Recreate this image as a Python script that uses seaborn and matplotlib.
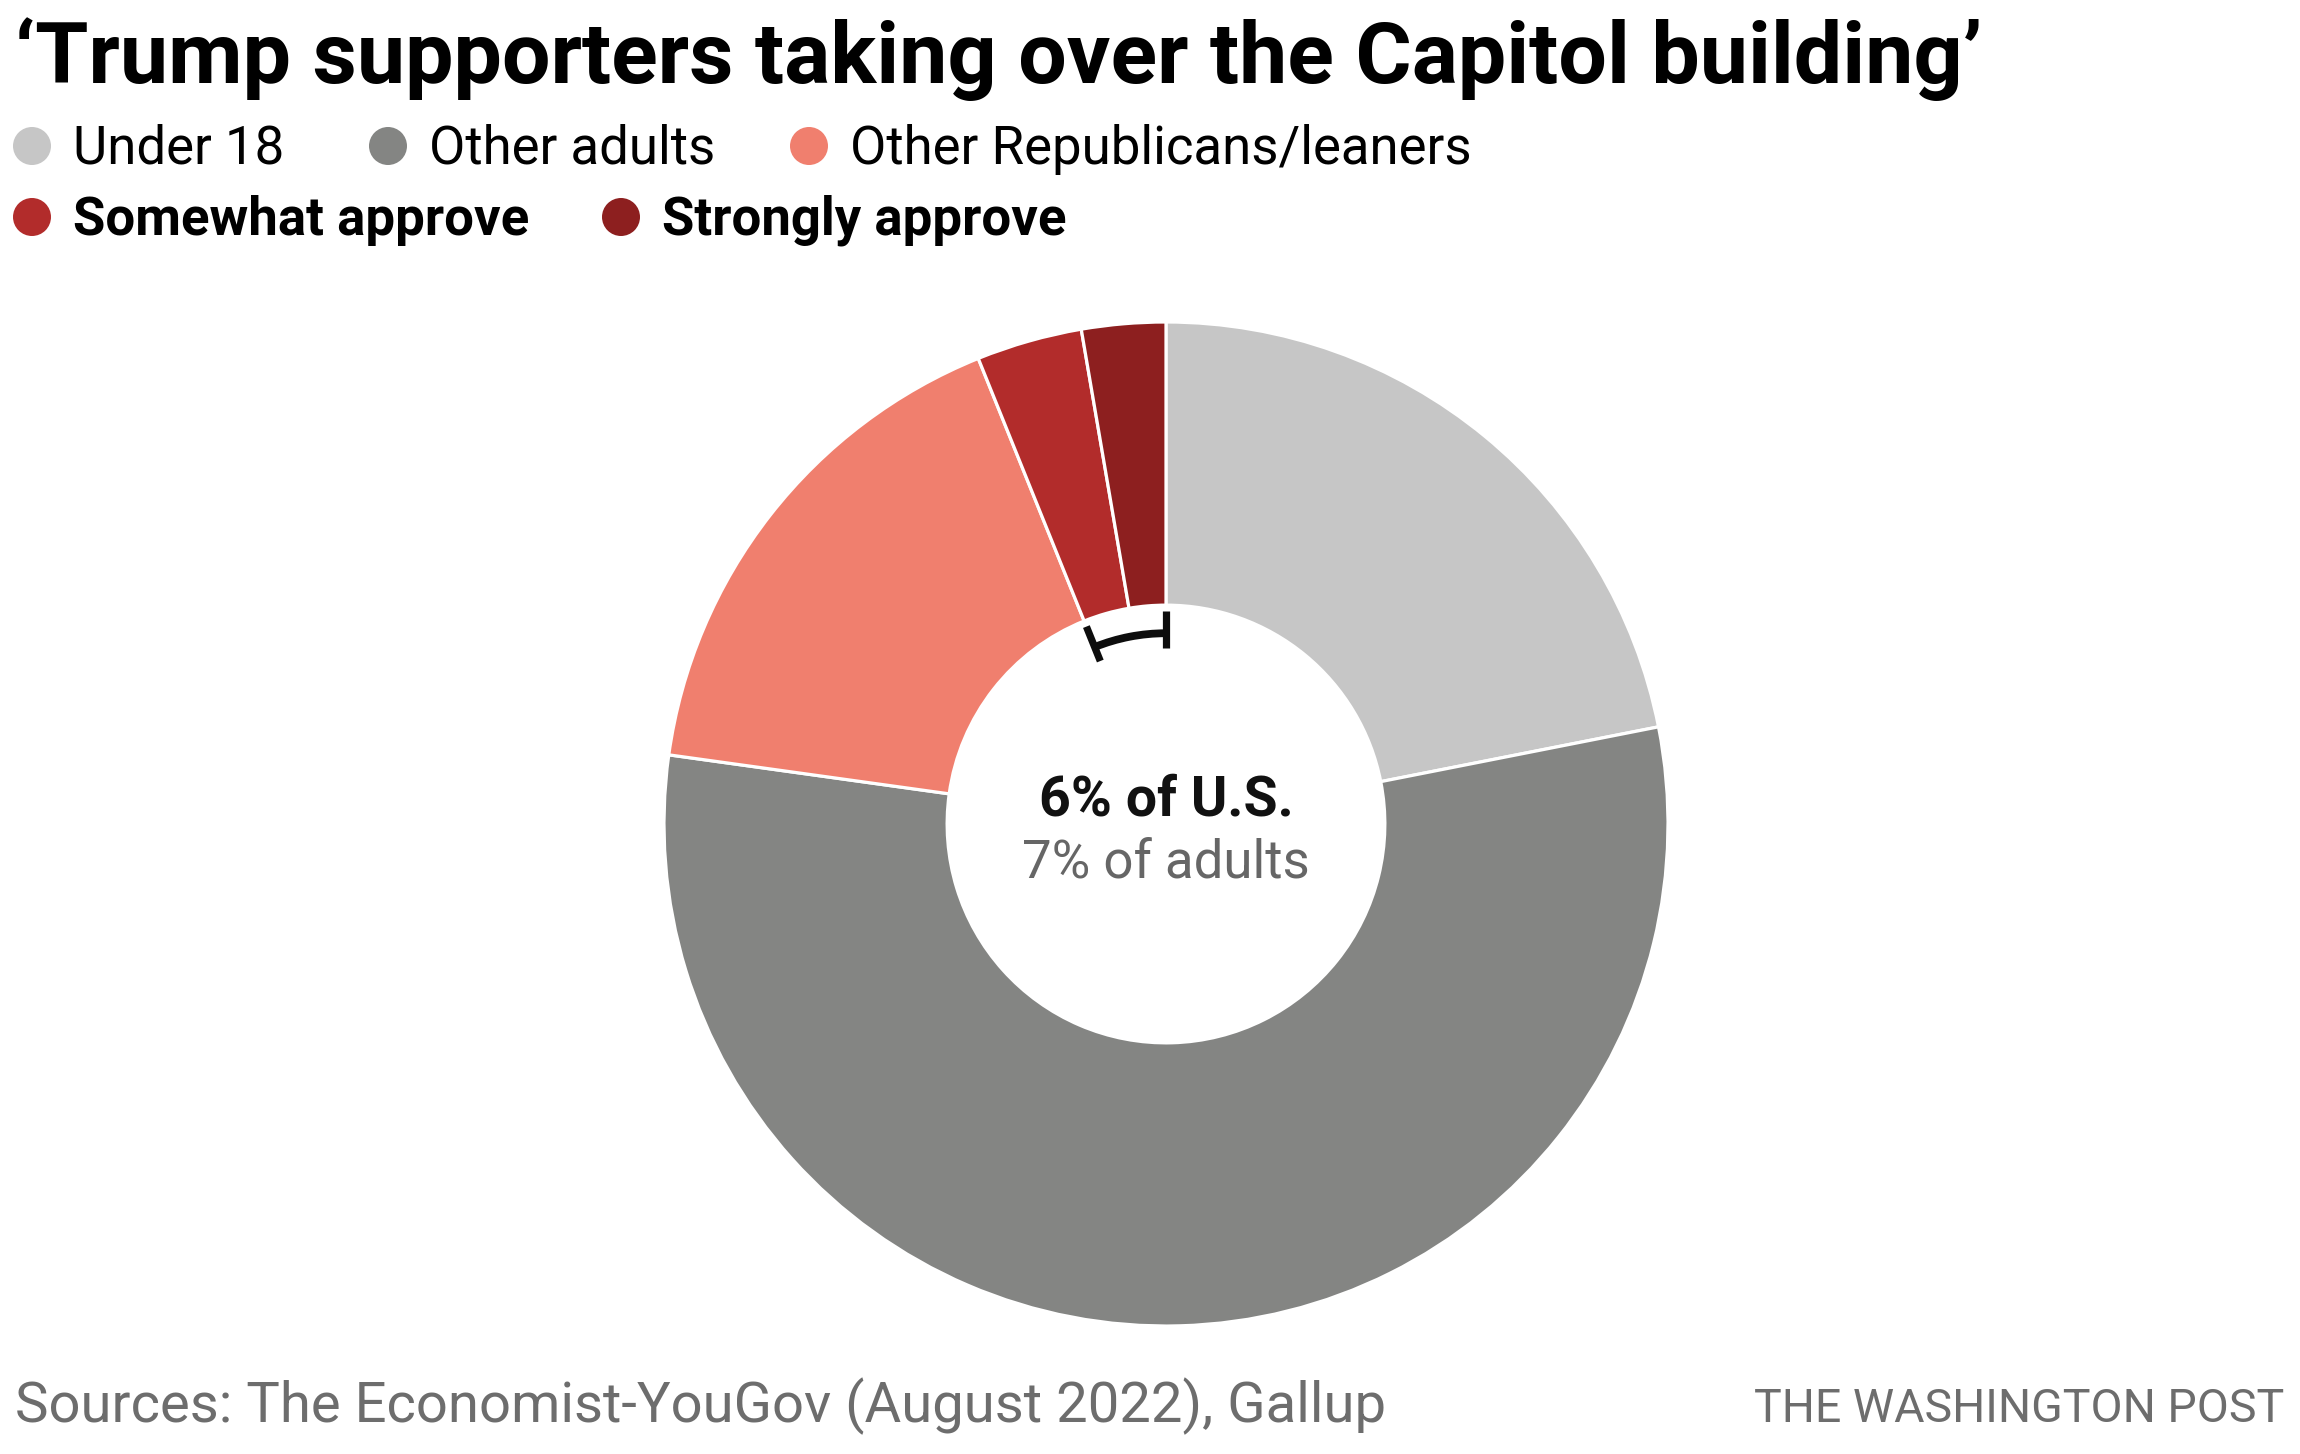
import matplotlib
matplotlib.use("Agg")
import matplotlib.pyplot as plt
from matplotlib.patches import Circle, Arc
import seaborn as sns
import numpy as np

# Share of the U.S. population (%)
groups = ['Under 18', 'Other adults', 'Other Republicans/leaners',
          'Somewhat approve', 'Strongly approve']
shares = [21.9, 55.3, 16.7, 3.4, 2.7]
colors = ['#c6c6c6', '#848583', '#f07f6e', '#b22c2b', '#8d1f1f']
bold_legend = [False, False, False, True, True]

title = '\u2018Trump supporters taking over the Capitol building\u2019'
center_main = '6% of U.S.'
center_sub = '7% of adults'
source = 'Sources: The Economist-YouGov (August 2022), Gallup'
credit = 'THE WASHINGTON POST'

sns.set_theme(style="white")
plt.rcParams['font.family'] = ['Roboto', 'DejaVu Sans']

W, H = 2300, 1454
fig = plt.figure(figsize=(W / 100, H / 100), dpi=100)
fig.patch.set_facecolor('white')

# donut axes, centred at (1166, 824) px with radius 502 px
cx, cy, R = 1166, 824, 502
S = 2.2 * R
ax = fig.add_axes([(cx - S / 2) / W, (H - cy - S / 2) / H, S / W, S / H])
palette = sns.color_palette(colors)
hole = 0.436
ax.pie(shares, colors=palette, startangle=90, counterclock=False, radius=1,
       wedgeprops=dict(width=1 - hole, edgecolor='white', linewidth=2.3))
ax.set_xlim(-1.1, 1.1)
ax.set_ylim(-1.1, 1.1)
ax.set_aspect('equal')
ax.axis('off')

# bracket spanning the two "approve" slices along the hole edge
frac = (shares[3] + shares[4]) / sum(shares)
a0, a1 = 90, 90 + frac * 360
rb = 0.38
ax.add_patch(Arc((0, 0), 2 * rb, 2 * rb, theta1=a0, theta2=a1,
                 color='#0d0d0d', lw=5.6, capstyle='butt'))
for a in (a0, a1):
    t = np.deg2rad(a)
    ax.plot([0.350 * np.cos(t), 0.424 * np.cos(t)],
            [0.350 * np.sin(t), 0.424 * np.sin(t)],
            color='#0d0d0d', lw=5.2, solid_capstyle='butt')

ax.text(0, (cy - 815) / R, center_main, ha='center', va='baseline',
        fontsize=40, fontweight='bold', color='#111111')
ax.text(0, (cy - 878) / R, center_sub, ha='center', va='baseline',
        fontsize=38, color='#666666')

# overlay in pixel coordinates for title, legend and footer
ov = fig.add_axes([0, 0, 1, 1])
ov.set_xlim(0, W)
ov.set_ylim(H, 0)
ov.patch.set_alpha(0)
ov.axis('off')

ov.text(15, 83, title, ha='left', va='baseline', fontsize=62,
        fontweight='bold', color='#000000')

leg_pos = [(32, 146), (388, 146), (809, 146), (32, 217), (621, 217)]
for (x, y), name, c, b in zip(leg_pos, groups, colors, bold_legend):
    ov.add_patch(Circle((x, y), 19, color=c, lw=0))
    ov.text(x + 41, y + 18, name, ha='left', va='baseline', fontsize=38,
            fontweight='bold' if b else 'normal', color='#000000')

ov.text(15, 1422, source, ha='left', va='baseline', fontsize=40.5,
        color='#6d6d6d')
ov.text(2284, 1422, credit, ha='right', va='baseline', fontsize=33.5,
        color='#6d6d6d')

fig.savefig('out.png', dpi=100, facecolor='white')
